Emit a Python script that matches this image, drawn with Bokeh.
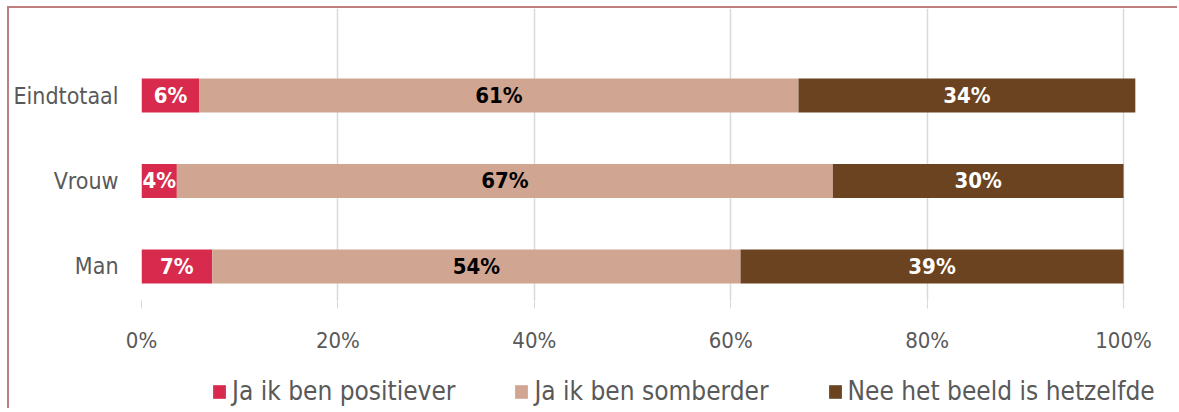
from bokeh.plotting import figure
from bokeh.models import (Range1d, FixedTicker, PrintfTickFormatter, Legend,
                          LegendItem, Spacer)
from bokeh.layouts import column, row
from bokeh.embed import file_html
from bokeh.resources import INLINE
from bokeh.core.properties import value

categories = ["Man", "Vrouw", "Eindtotaal"]
series_names = ["Ja ik ben positiever", "Ja ik ben somberder", "Nee het beeld is hetzelfde"]
positiever = [7.2, 3.6, 5.9]
somberder = [53.8, 66.8, 61.0]
hetzelfde = [39.0, 29.6, 34.3]
x_ticks = [0, 20, 40, 60, 80, 100]

colors = ["#D82A4D", "#D0A692", "#6B4320"]
label_colors = ["#FFFFFF", "#000000", "#FFFFFF"]
FONT = "DejaVu Sans Condensed, Liberation Sans"
GRAY = "#595959"
BORDER = "2px solid #C07F7F"

p = figure(width=1170, height=352, output_backend="svg", toolbar_location=None,
           x_range=Range1d(0, 105.7), y_range=Range1d(-0.398, 3.018),
           min_border_left=132, min_border_right=0, min_border_top=0,
           min_border_bottom=60,
           styles={"border-top": BORDER, "border-left": BORDER})
p.outline_line_color = None
p.background_fill_color = "white"
p.border_fill_color = "white"

ys = list(range(len(categories)))
series = [positiever, somberder, hetzelfde]
left = [0.0] * len(categories)
for vals, col, lcol in zip(series, colors, label_colors):
    right = [l + v for l, v in zip(left, vals)]
    p.hbar(y=ys, left=left, right=right, height=0.4, fill_color=col, line_color=None)
    mids = [(l + rr) / 2 for l, rr in zip(left, right)]
    texts = ["%.0f%%" % v for v in vals]
    p.text(x=mids, y=ys, text=texts, text_align="center", text_baseline="middle",
           text_font=value(FONT), text_font_style="bold", text_font_size="22px",
           text_color=lcol)
    left = right

# x axis
p.xaxis.ticker = FixedTicker(ticks=x_ticks)
p.xaxis.formatter = PrintfTickFormatter(format="%d%%")
p.xaxis.axis_line_color = None
p.xaxis.major_tick_line_color = "#D9D9D9"
p.xaxis.major_tick_out = 8
p.xaxis.major_tick_in = 0
p.xaxis.minor_tick_line_color = None
p.xaxis.major_label_standoff = 19
p.xaxis.major_label_text_font = FONT
p.xaxis.major_label_text_font_size = "22px"
p.xaxis.major_label_text_color = GRAY

# y axis
p.yaxis.ticker = FixedTicker(ticks=ys)
p.yaxis.major_label_overrides = {i: c for i, c in zip(ys, categories)}
p.yaxis.axis_line_color = None
p.yaxis.major_tick_line_color = None
p.yaxis.major_tick_out = 0
p.yaxis.major_tick_in = 0
p.yaxis.minor_tick_line_color = None
p.yaxis.major_label_standoff = 23
p.yaxis.major_label_text_font = FONT
p.yaxis.major_label_text_font_size = "23px"
p.yaxis.major_label_text_color = GRAY

p.xgrid.ticker = FixedTicker(ticks=x_ticks)
p.xgrid.grid_line_color = "#D9D9D9"
p.xgrid.grid_line_width = 1.5
p.ygrid.grid_line_color = None

# legend strip (separate figure so the legend sits below the axis)
p2 = figure(width=1170, height=50, output_backend="svg", toolbar_location=None,
            x_range=Range1d(0, 1), y_range=Range1d(10, 11),
            x_axis_location=None, y_axis_location=None,
            min_border_left=0, min_border_right=0, min_border_top=0, min_border_bottom=0,
            styles={"border-left": BORDER})
p2.outline_line_color = None
p2.xgrid.grid_line_color = None
p2.ygrid.grid_line_color = None
# proxies outside the visible range: they only supply the legend swatches
proxies = [p2.hbar(y=ys, left=0, right=vals, height=0, fill_color=c, line_color=None)
           for vals, c in zip(series, colors)]
legend = Legend(items=[LegendItem(label=n, renderers=[r]) for n, r in zip(series_names, proxies)],
                location=(202, 2), orientation="horizontal", padding=0, margin=0,
                spacing=58, glyph_width=16, glyph_height=17, label_standoff=5,
                label_text_font=FONT, label_text_font_size="26px",
                label_text_color=GRAY, border_line_color=None,
                background_fill_alpha=0)
p2.add_layout(legend)

layout = column(Spacer(height=6, width=10),
                row(Spacer(width=7, height=10), p),
                row(Spacer(width=7, height=10), p2))
open("out.html", "w").write(file_html(layout, INLINE))
